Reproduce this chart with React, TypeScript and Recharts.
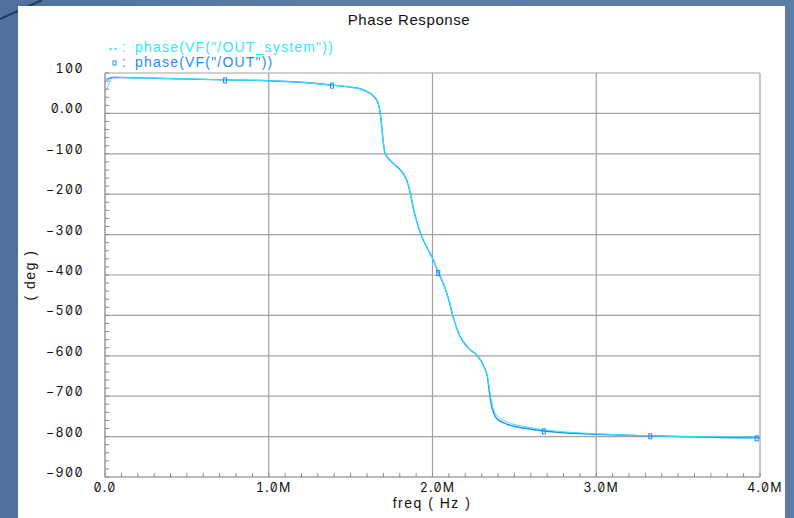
import React from 'react';
import { LineChart, Line, XAxis, YAxis, CartesianGrid } from 'recharts';

// frequency points (MHz)
const freqMHz = [
  0.01, 0.05, 0.09, 0.3, 0.733, 1.0, 1.2, 1.386, 1.5, 1.557, 1.6, 1.637, 1.659, 1.679, 1.69, 1.7,
  1.71, 1.73, 1.761, 1.812, 1.842, 1.863, 1.883, 1.913, 1.934, 1.974, 2.005, 2.035, 2.066, 2.097,
  2.127, 2.168, 2.219, 2.27, 2.31, 2.335, 2.351, 2.362, 2.392, 2.453, 2.575, 2.68, 3.0, 3.33, 3.5,
  3.98, 4.0,
];
// phase(VF("/OUT")) in degrees
const outPhase = [
  84, 89, 89, 87, 83, 81, 77, 70, 65, 61, 54, 44, 33, 6, -33, -73,
  -98, -111, -124, -144, -165, -195, -235, -280, -305, -338, -363, -394, -421, -458,
  -505, -552, -581, -598, -623, -652, -701, -726, -755, -769, -780, -786, -794, -798, -800,
  -803, -803,
];
// phase(VF("/OUT_system")) in degrees
const systemPhase = [
  58, 90, 89, 87, 83, 81, 77, 70, 65, 61, 54, 44, 33, 6, -33, -73,
  -98, -111, -124, -144, -165, -195, -235, -280, -305, -338, -363, -394, -421, -458,
  -505, -552, -581, -598, -623, -650, -690, -716, -747, -763, -776, -783, -793, -798, -799,
  -801, -801,
];
// frequencies (MHz) where the "/OUT" trace shows its square marker
const markerMHz = [0.733, 1.386, 2.035, 2.68, 3.33, 3.98];

const xTicks = [0, 1e6, 2e6, 3e6, 4e6];
const xTickLabels = ['0.0', '1.0M', '2.0M', '3.0M', '4.0M'];
const yTicks = [100, 0, -100, -200, -300, -400, -500, -600, -700, -800, -900];
const yTickLabels = ['100', '0.00', '−100', '−200', '−300', '−400', '−500', '−600', '−700', '−800', '−900'];
const minorXTicks = Array.from({ length: 41 }, (_, i) => i * 1e5);
const minorYTicks = Array.from({ length: 51 }, (_, i) => 100 - i * 20);

const data = freqMHz.map((f, i) => ({ f: f * 1e6, out: outPhase[i], sys: systemPhase[i] }));
const markerSet = new Set(markerMHz.map((m) => m * 1e6));

const BLUE = '#1f8cff';
const CYAN = '#30e8ff';
const GRID = '#a2a2a2';
const TICK_FONT = "Inter, 'DejaVu Sans', sans-serif";
const TEXT_FONT = "'Liberation Sans', Arial, sans-serif";
const tickStyle: any = { fontFeatureSettings: '"zero" 1, "tnum" 1' };

const XTick = (props: any) => {
  const { x, y, payload } = props;
  const idx = xTicks.indexOf(payload.value);
  const label = idx >= 0 ? xTickLabels[idx] : '';
  const shift = label.endsWith('M') ? 5 : 0;
  return (
    <text x={x + shift} y={y} dy={15} textAnchor="middle" fontFamily={TICK_FONT} fontSize={12.5}
      letterSpacing={1.2} fill="#111" style={tickStyle}>{label}</text>
  );
};

const YTick = (props: any) => {
  const { x, y, payload } = props;
  const idx = yTicks.indexOf(payload.value);
  const label = idx >= 0 ? yTickLabels[idx] : '';
  return (
    <text x={x - 21} y={y} dy={0} textAnchor="end" fontFamily={TICK_FONT} fontSize={12.5}
      letterSpacing={1.4} fill="#111" style={tickStyle}>{label}</text>
  );
};

const EmptyTick = () => <g />;

const Marker = (props: any) => {
  const { cx, cy, payload, index } = props;
  if (!markerSet.has(payload.f)) return <g key={`m${index}`} />;
  return <rect key={`m${index}`} x={cx - 1.5} y={cy - 2} width={3} height={5} fill="none" stroke={BLUE} strokeWidth={1} />;
};

export default function App() {
  return (
    <div style={{ position: 'absolute', left: 0, top: 0, width: 794, height: 518, overflow: 'hidden',
      background: 'linear-gradient(90deg, #4f729d 0%, #5a7ca6 40%, #5b7da6 100%)' }}>
      <svg width={60} height={30} style={{ position: 'absolute', left: 0, top: 0 }}>
        <line x1={0} y1={19} x2={42} y2={0} stroke="#173a70" strokeWidth={2} />
      </svg>
      <div style={{ position: 'absolute', left: 18, top: 6, width: 767, height: 512, background: '#ffffff' }} />
      <div style={{ position: 'absolute', left: 0, top: 0 }}>
        <LineChart width={794} height={518} data={data} margin={{ top: 73, right: 34, bottom: 11, left: 45 }}>
          <CartesianGrid xAxisId="m" yAxisId="m" stroke={GRID} strokeWidth={1.2} />
          <XAxis xAxisId="m" dataKey="f" type="number" domain={[0, 4e6]} ticks={xTicks} interval={0}
            tickLine={false} tickSize={0} tickMargin={0} axisLine={{ stroke: GRID, strokeWidth: 1.2 }}
            tick={<XTick />} height={30} allowDataOverflow />
          <XAxis xAxisId="n" dataKey="f" type="number" domain={[0, 4e6]} ticks={minorXTicks} interval={0}
            mirror tickSize={4} tickLine={{ stroke: '#888888' }} axisLine={false} tick={<EmptyTick />}
            height={10} allowDataOverflow />
          <YAxis yAxisId="m" type="number" domain={[-900, 100]} ticks={yTicks} interval={0}
            tickLine={false} tickSize={0} tickMargin={0} axisLine={{ stroke: GRID, strokeWidth: 1.2 }}
            tick={<YTick />} width={60} allowDataOverflow />
          <YAxis yAxisId="n" type="number" domain={[-900, 100]} ticks={minorYTicks} interval={0}
            mirror tickSize={4} tickLine={{ stroke: '#888888' }} axisLine={false} tick={<EmptyTick />}
            width={10} allowDataOverflow />
          <Line xAxisId="m" yAxisId="m" type="monotone" dataKey="out" stroke={BLUE} strokeWidth={1.4}
            dot={Marker} activeDot={false} isAnimationActive={false} />
          <Line xAxisId="m" yAxisId="m" type="monotone" dataKey="sys" stroke={CYAN} strokeWidth={1}
            dot={false} activeDot={false} isAnimationActive={false} />
        </LineChart>
      </div>
      <div style={{ position: 'absolute', left: 309, top: 12, width: 200, textAlign: 'center', fontFamily: TEXT_FONT,
        fontSize: 15, lineHeight: 1, letterSpacing: 0.6, color: '#111', whiteSpace: 'nowrap' }}>Phase Response</div>
      <div style={{ position: 'absolute', left: 107, top: 40, fontFamily: TEXT_FONT, fontSize: 14, lineHeight: 1,
        color: CYAN, whiteSpace: 'nowrap', display: 'flex', alignItems: 'baseline' }}>
        <span style={{ width: 28, display: 'inline-block', letterSpacing: 0 }}>
          <svg width={16} height={10} style={{ verticalAlign: 'baseline' }}>
            <line x1={2} y1={7} x2={5} y2={7} stroke={CYAN} strokeWidth={1.5} />
            <line x1={7} y1={7} x2={10} y2={7} stroke={CYAN} strokeWidth={1.5} />
          </svg>
          <span style={{ position: 'relative', left: -1 }}>:</span>
        </span>
        <span style={{ letterSpacing: 1.2 }}>phase(VF("/OUT_system"))</span>
      </div>
      <div style={{ position: 'absolute', left: 107, top: 55, fontFamily: TEXT_FONT, fontSize: 14, lineHeight: 1,
        color: BLUE, whiteSpace: 'nowrap', display: 'flex', alignItems: 'baseline' }}>
        <span style={{ width: 28, display: 'inline-block', letterSpacing: 0 }}>
          <svg width={16} height={10} style={{ verticalAlign: 'baseline' }}>
            <rect x={6} y={4} width={3} height={4} fill="none" stroke={BLUE} strokeWidth={1} />
          </svg>
          <span style={{ position: 'relative', left: -1 }}>:</span>
        </span>
        <span style={{ letterSpacing: 1.2 }}>phase(VF("/OUT"))</span>
      </div>
      <div style={{ position: 'absolute', left: 332, top: 496, width: 200, textAlign: 'center', fontFamily: TEXT_FONT,
        fontSize: 14, lineHeight: 1, letterSpacing: 1.5, color: '#111', whiteSpace: 'nowrap' }}>freq ( Hz )</div>
      <div style={{ position: 'absolute', left: -70, top: 268, width: 200, textAlign: 'center', fontFamily: TEXT_FONT,
        fontSize: 14, lineHeight: 1, letterSpacing: 1.5, color: '#111', whiteSpace: 'nowrap',
        transform: 'rotate(-90deg)' }}>( deg )</div>
    </div>
  );
}
